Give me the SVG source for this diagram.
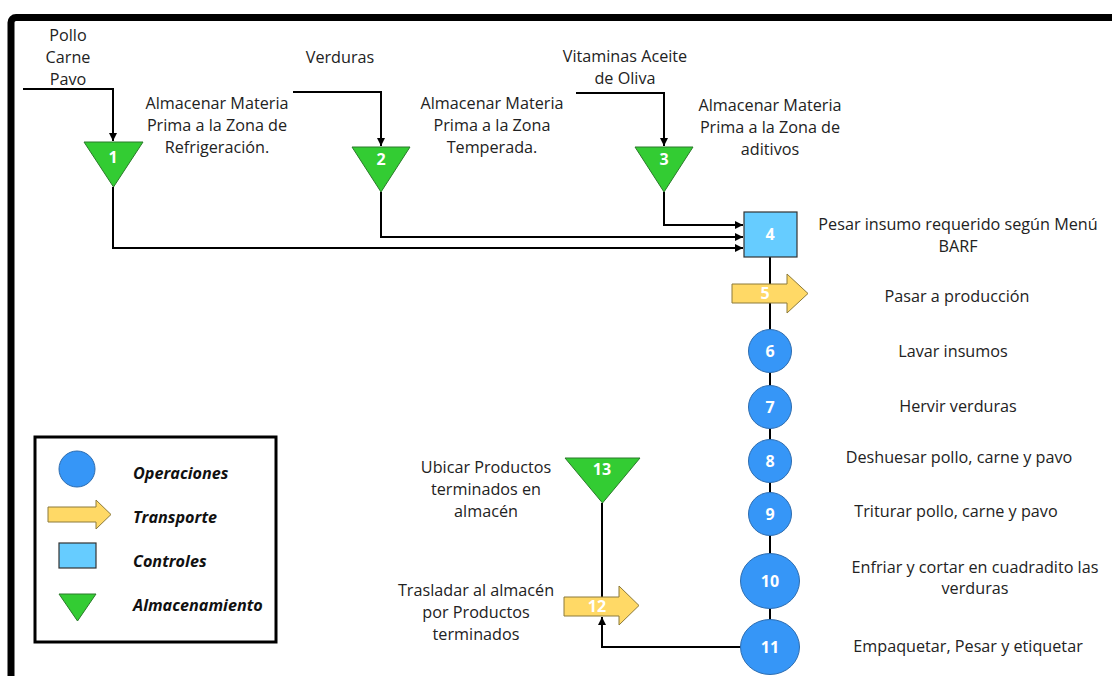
<svg xmlns="http://www.w3.org/2000/svg" width="1112" height="676" viewBox="0 0 1112 676">
<defs>
<marker id="ah" viewBox="0 0 10 10" refX="10" refY="5" markerWidth="8" markerHeight="8" markerUnits="userSpaceOnUse" orient="auto">
<path d="M0,0 L10,5 L0,10 z" fill="#000"/>
</marker>
<style>
.t{font-family:"Open Sans","Liberation Sans",sans-serif;font-size:16.2px;fill:#222;text-anchor:middle}
.n{font-family:"Open Sans","Liberation Sans",sans-serif;font-size:16px;font-weight:bold;fill:#fff;text-anchor:middle}
.lg{font-family:"Open Sans","Liberation Sans",sans-serif;font-size:16.2px;font-weight:bold;font-style:italic;fill:#111}
.op{fill:#3696F7;stroke:#2E6DB0;stroke-width:1}
.tr{fill:#FFD966;stroke:#8C7A3A;stroke-width:1}
.ct{fill:#66CCFF;stroke:#333;stroke-width:1.2}
.st{fill:#33CC33;stroke:#2A7A2A;stroke-width:1}
.c{fill:none;stroke:#000;stroke-width:2}
</style>
</defs>
<rect x="11" y="17.5" width="1200" height="800" rx="5" fill="#fff" stroke="#000" stroke-width="7"/>

<g id="connectors">
<polyline class="c" points="23,89 113,89 113,141" marker-end="url(#ah)"/>
<polyline class="c" points="293,92 381,92 381,146" marker-end="url(#ah)"/>
<polyline class="c" points="576,93 664,93 664,146" marker-end="url(#ah)"/>
<polyline class="c" points="113,187 113,248 743,248" marker-end="url(#ah)"/>
<polyline class="c" points="381,192 381,237 743,237" marker-end="url(#ah)"/>
<polyline class="c" points="664,192 664,225 743,225" marker-end="url(#ah)"/>
<line class="c" x1="770" y1="257" x2="770" y2="620"/>
<polyline class="c" points="741,647 602,647 602,617" marker-end="url(#ah)"/>
<line class="c" x1="602" y1="503" x2="602" y2="597"/>
</g>

<g id="inputs">
<text class="t" x="68" y="41">Pollo</text>
<text class="t" x="68" y="63">Carne</text>
<text class="t" x="68" y="85">Pavo</text>
<text class="t" x="340" y="63">Verduras</text>
<text class="t" x="625" y="62">Vitaminas Aceite</text>
<text class="t" x="625" y="84">de Oliva</text>
</g>

<g id="n1">
<polygon class="st" points="84,142 143,142 113.5,187"/>
<text class="n" x="113" y="163">1</text>
<text class="t" x="217" y="109">Almacenar Materia</text>
<text class="t" x="217" y="131">Prima a la Zona de</text>
<text class="t" x="217" y="153">Refrigeración.</text>
</g>
<g id="n2">
<polygon class="st" points="352,147 410,147 381,192"/>
<text class="n" x="381" y="165">2</text>
<text class="t" x="492" y="109">Almacenar Materia</text>
<text class="t" x="492" y="131">Prima a la Zona</text>
<text class="t" x="492" y="153">Temperada.</text>
</g>
<g id="n3">
<polygon class="st" points="635,147 693,147 664,192"/>
<text class="n" x="664" y="165">3</text>
<text class="t" x="770" y="111">Almacenar Materia</text>
<text class="t" x="770" y="133">Prima a la Zona de</text>
<text class="t" x="770" y="155">aditivos</text>
</g>
<g id="n4">
<rect class="ct" x="744" y="212" width="53" height="45"/>
<text class="n" x="770" y="240">4</text>
<text class="t" x="958" y="230">Pesar insumo requerido según Menú</text>
<text class="t" x="958" y="252">BARF</text>
</g>
<g id="n5">
<polygon class="tr" points="732,284 787,284 787,274 808,293.5 787,313 787,303 732,303"/>
<text class="n" x="765" y="299">5</text>
<text class="t" x="957" y="302">Pasar a producción</text>
</g>
<g id="n6">
<circle class="op" cx="770" cy="351" r="21.5"/>
<text class="n" x="770" y="357">6</text>
<text class="t" x="953" y="357">Lavar insumos</text>
</g>
<g id="n7">
<circle class="op" cx="770" cy="407" r="21.5"/>
<text class="n" x="770" y="413">7</text>
<text class="t" x="958" y="412">Hervir verduras</text>
</g>
<g id="n8">
<circle class="op" cx="770" cy="461" r="21.5"/>
<text class="n" x="770" y="467">8</text>
<text class="t" x="959" y="463">Deshuesar pollo, carne y pavo</text>
</g>
<g id="n9">
<circle class="op" cx="770" cy="514" r="21.5"/>
<text class="n" x="770" y="520">9</text>
<text class="t" x="956" y="517">Triturar pollo, carne y pavo</text>
</g>
<g id="n10">
<ellipse class="op" cx="770" cy="581" rx="29.5" ry="27.5"/>
<text class="n" x="770" y="587">10</text>
<text class="t" x="975" y="573">Enfriar y cortar en cuadradito las</text>
<text class="t" x="975" y="594">verduras</text>
</g>
<g id="n11">
<ellipse class="op" cx="770" cy="647" rx="29.5" ry="27.5"/>
<text class="n" x="770" y="653">11</text>
<text class="t" x="968" y="652">Empaquetar, Pesar y etiquetar</text>
</g>
<g id="n12">
<polygon class="tr" points="564,597 619,597 619,586 639,605.5 619,625 619,616 564,616"/>
<text class="n" x="597" y="612">12</text>
<text class="t" x="476" y="596">Trasladar al almacén</text>
<text class="t" x="476" y="618">por Productos</text>
<text class="t" x="476" y="640">terminados</text>
</g>
<g id="n13">
<polygon class="st" points="565,458 640,458 602.5,503"/>
<text class="n" x="602" y="475">13</text>
<text class="t" x="486" y="473">Ubicar Productos</text>
<text class="t" x="486" y="495">terminados en</text>
<text class="t" x="486" y="517">almacén</text>
</g>

<g id="legend">
<rect x="35" y="437" width="241" height="205" fill="#fff" stroke="#000" stroke-width="3"/>
<circle class="op" cx="77" cy="469" r="18"/>
<polygon class="tr" points="48,507 96,507 96,500 111,514.5 96,529 96,522 48,522"/>
<rect class="ct" x="59" y="543" width="37" height="25"/>
<polygon class="st" points="59,594 96,594 77.5,621"/>
<text class="lg" x="133" y="479">Operaciones</text>
<text class="lg" x="133" y="523">Transporte</text>
<text class="lg" x="133" y="567">Controles</text>
<text class="lg" x="133" y="611">Almacenamiento</text>
</g>
</svg>
